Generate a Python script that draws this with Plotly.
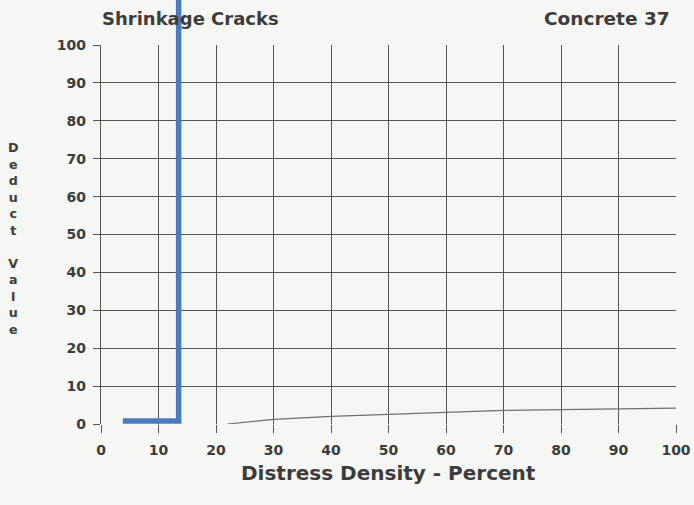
import plotly.graph_objects as go

# Data
x_ticks = [0, 10, 20, 30, 40, 50, 60, 70, 80, 90, 100]
y_ticks = [0, 10, 20, 30, 40, 50, 60, 70, 80, 90, 100]

curve_x = [22, 25, 30, 40, 50, 60, 70, 80, 90, 100]
curve_y = [0.0, 0.4, 1.2, 2.0, 2.6, 3.1, 3.6, 3.8, 4.0, 4.2]

marker_x = [3.8, 13.5, 13.5]
marker_y = [0.8, 0.8, 125]

title_left = "Shrinkage Cracks"
title_right = "Concrete 37"
x_title = "Distress Density - Percent"
y_title = "Deduct Value"

ink = "#3c3c3c"
grid = "#555555"
bg = "#f6f6f4"
FONT = "DejaVu Sans, Arial, sans-serif"

W, H = 694, 505
L, R, T, B = 101, 18, 0, 81
PLOT_TOP = T
PLOT_BOT = H - B          # pixel of y = 0
Y100 = 45                 # pixel of y = 100
ph = PLOT_BOT - PLOT_TOP
pw = W - L - R
dom_top = (PLOT_BOT - Y100) / ph

fig = go.Figure()
fig.add_trace(go.Scatter(x=curve_x, y=curve_y, mode="lines",
                         line=dict(color="#707070", width=1.2),
                         xaxis="x", yaxis="y", showlegend=False, hoverinfo="skip"))
fig.add_trace(go.Scatter(x=marker_x, y=marker_y, mode="lines",
                         line=dict(color="#4a7bbf", width=5.5),
                         xaxis="x2", yaxis="y2", showlegend=False, hoverinfo="skip"))

tickfont = dict(size=14, color=ink, family=FONT, weight="bold")

fig.update_layout(
    width=W, height=H,
    margin=dict(l=L, r=R, t=T, b=B, pad=0, autoexpand=False),
    paper_bgcolor=bg, plot_bgcolor="rgba(0,0,0,0)",
    font=dict(family=FONT, color=ink),
    xaxis=dict(range=[0, 100], tickvals=x_ticks, showgrid=True, gridcolor=grid,
               gridwidth=1.3, zeroline=False, showline=False, automargin=False,
               ticks="outside", ticklen=8, tickcolor=grid, tickwidth=1.3,
               tickfont=tickfont, anchor="y", fixedrange=True, ticklabelstandoff=5),
    yaxis=dict(range=[0, 100], tickvals=y_ticks, domain=[0, dom_top], showgrid=True,
               gridcolor=grid, gridwidth=1.3, zeroline=False, automargin=False,
               showline=True, linecolor=grid, linewidth=1.3,
               ticks="outside", ticklen=7, tickcolor=grid, tickwidth=1.3,
               tickfont=tickfont, anchor="x", fixedrange=True, ticklabelstandoff=4),
    xaxis2=dict(range=[0, 100], domain=[0, 1], anchor="y2", overlaying="x",
                visible=False, showgrid=False, fixedrange=True, automargin=False),
    yaxis2=dict(range=[0, 100 / dom_top], domain=[0, 1], anchor="x2",
                visible=False, showgrid=False, fixedrange=True, automargin=False),
    annotations=[
        dict(text=title_left, x=190, y=18, xanchor="center",
             font=dict(size=18, color=ink, weight="bold", family=FONT)),
        dict(text=title_right, x=672, y=18, xanchor="right",
             font=dict(size=18.5, color=ink, weight="bold", family=FONT)),
        dict(text=x_title, x=388, y=473, xanchor="center",
             font=dict(size=20, color=ink, weight="bold", family=FONT)),
        dict(text="<br>".join(list("Deduct")) + "<br><br>" + "<br>".join(list("Value")),
             x=13, y=238, xanchor="center", align="center",
             font=dict(size=12.7, color=ink, weight="bold", family=FONT)),
    ],
)

# annotations given in pixel coordinates -> convert to paper coords
for a in fig.layout.annotations:
    a.showarrow = False
    a.yanchor = "middle"
    a.xref = "paper"
    a.yref = "paper"
    a.x = (a.x - L) / pw
    a.y = (PLOT_BOT - a.y) / ph

fig.write_html("out.html", config={"displayModeBar": False})

# remove default page margin so the figure sits at the window's top-left corner
with open("out.html", "r", encoding="utf-8") as f:
    html = f.read()
html = html.replace("<head>", "<head><style>html,body{margin:0;padding:0;background:%s;}</style>" % bg, 1)
with open("out.html", "w", encoding="utf-8") as f:
    f.write(html)
